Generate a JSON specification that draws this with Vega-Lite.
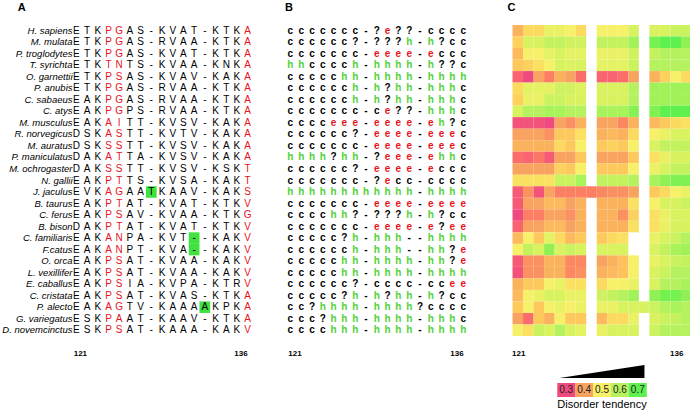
{
"$schema": "https://vega.github.io/schema/vega-lite/v6.json",
"padding": {"left": 1, "top": 2, "right": 0, "bottom": 0},
"background": "white",
"config": {
  "view": {"stroke": null},
  "font": "Liberation Sans",
  "title": {"fontSize": 11, "fontWeight": "bold", "anchor": "start", "offset": 12, "color": "black"},
  "axis": {"ticks": false, "domain": false, "grid": false, "title": null}
},
"datasets": {
"flags": [{"sp":"J. jaculus","pos":128},{"sp":"C. familiaris","pos":132},{"sp":"F.catus","pos":132},{"sp":"P. alecto","pos":133}],
"cells": [
{"sp":"H. sapiens","pos":121,"aa":"E","ss":"c","dis":0.42},{"sp":"H. sapiens","pos":122,"aa":"T","ss":"c","dis":0.47},{"sp":"H. sapiens","pos":123,"aa":"K","ss":"c","dis":0.47},{"sp":"H. sapiens","pos":124,"aa":"P","ss":"c","dis":0.52},{"sp":"H. sapiens","pos":125,"aa":"G","ss":"c","dis":0.52},{"sp":"H. sapiens","pos":126,"aa":"A","ss":"c","dis":0.5},{"sp":"H. sapiens","pos":127,"aa":"S","ss":"c","dis":0.47},{"sp":"H. sapiens","pos":128,"aa":"-","ss":"-"},{"sp":"H. sapiens","pos":129,"aa":"K","ss":"?","dis":0.5},{"sp":"H. sapiens","pos":130,"aa":"V","ss":"e","dis":0.5},{"sp":"H. sapiens","pos":131,"aa":"A","ss":"?","dis":0.5},{"sp":"H. sapiens","pos":132,"aa":"T","ss":"?","dis":0.55},{"sp":"H. sapiens","pos":133,"aa":"-","ss":"-"},{"sp":"H. sapiens","pos":134,"aa":"K","ss":"c","dis":0.55},{"sp":"H. sapiens","pos":135,"aa":"T","ss":"c","dis":0.55},{"sp":"H. sapiens","pos":136,"aa":"K","ss":"c","dis":0.57},{"sp":"H. sapiens","pos":137,"aa":"A","ss":"c","dis":0.57},
{"sp":"M. mulata","pos":121,"aa":"E","ss":"c","dis":0.46},{"sp":"M. mulata","pos":122,"aa":"T","ss":"c","dis":0.55},{"sp":"M. mulata","pos":123,"aa":"K","ss":"c","dis":0.55},{"sp":"M. mulata","pos":124,"aa":"P","ss":"c","dis":0.58},{"sp":"M. mulata","pos":125,"aa":"G","ss":"c","dis":0.58},{"sp":"M. mulata","pos":126,"aa":"A","ss":"c","dis":0.56},{"sp":"M. mulata","pos":127,"aa":"S","ss":"?","dis":0.56},{"sp":"M. mulata","pos":128,"aa":"-","ss":"-"},{"sp":"M. mulata","pos":129,"aa":"R","ss":"?","dis":0.58},{"sp":"M. mulata","pos":130,"aa":"V","ss":"?","dis":0.58},{"sp":"M. mulata","pos":131,"aa":"A","ss":"?","dis":0.58},{"sp":"M. mulata","pos":132,"aa":"A","ss":"h","dis":0.63},{"sp":"M. mulata","pos":133,"aa":"-","ss":"-"},{"sp":"M. mulata","pos":134,"aa":"K","ss":"h","dis":0.68},{"sp":"M. mulata","pos":135,"aa":"T","ss":"?","dis":0.7},{"sp":"M. mulata","pos":136,"aa":"K","ss":"c","dis":0.7},{"sp":"M. mulata","pos":137,"aa":"A","ss":"c","dis":0.65},
{"sp":"P. troglodytes","pos":121,"aa":"E","ss":"c","dis":0.43},{"sp":"P. troglodytes","pos":122,"aa":"T","ss":"c","dis":0.5},{"sp":"P. troglodytes","pos":123,"aa":"K","ss":"c","dis":0.5},{"sp":"P. troglodytes","pos":124,"aa":"P","ss":"c","dis":0.53},{"sp":"P. troglodytes","pos":125,"aa":"G","ss":"c","dis":0.55},{"sp":"P. troglodytes","pos":126,"aa":"A","ss":"c","dis":0.53},{"sp":"P. troglodytes","pos":127,"aa":"S","ss":"c","dis":0.53},{"sp":"P. troglodytes","pos":128,"aa":"-","ss":"-"},{"sp":"P. troglodytes","pos":129,"aa":"K","ss":"e","dis":0.52},{"sp":"P. troglodytes","pos":130,"aa":"V","ss":"e","dis":0.52},{"sp":"P. troglodytes","pos":131,"aa":"A","ss":"e","dis":0.52},{"sp":"P. troglodytes","pos":132,"aa":"T","ss":"e","dis":0.56},{"sp":"P. troglodytes","pos":133,"aa":"-","ss":"-"},{"sp":"P. troglodytes","pos":134,"aa":"K","ss":"e","dis":0.58},{"sp":"P. troglodytes","pos":135,"aa":"T","ss":"c","dis":0.6},{"sp":"P. troglodytes","pos":136,"aa":"K","ss":"c","dis":0.6},{"sp":"P. troglodytes","pos":137,"aa":"A","ss":"c","dis":0.6},
{"sp":"T. syrichta","pos":121,"aa":"E","ss":"h","dis":0.45},{"sp":"T. syrichta","pos":122,"aa":"T","ss":"h","dis":0.46},{"sp":"T. syrichta","pos":123,"aa":"K","ss":"c","dis":0.48},{"sp":"T. syrichta","pos":124,"aa":"T","ss":"c","dis":0.5},{"sp":"T. syrichta","pos":125,"aa":"N","ss":"c","dis":0.55},{"sp":"T. syrichta","pos":126,"aa":"T","ss":"c","dis":0.54},{"sp":"T. syrichta","pos":127,"aa":"S","ss":"h","dis":0.55},{"sp":"T. syrichta","pos":128,"aa":"-","ss":"-"},{"sp":"T. syrichta","pos":129,"aa":"K","ss":"h","dis":0.53},{"sp":"T. syrichta","pos":130,"aa":"V","ss":"h","dis":0.53},{"sp":"T. syrichta","pos":131,"aa":"A","ss":"h","dis":0.53},{"sp":"T. syrichta","pos":132,"aa":"A","ss":"h","dis":0.57},{"sp":"T. syrichta","pos":133,"aa":"-","ss":"-"},{"sp":"T. syrichta","pos":134,"aa":"K","ss":"h","dis":0.6},{"sp":"T. syrichta","pos":135,"aa":"N","ss":"?","dis":0.6},{"sp":"T. syrichta","pos":136,"aa":"K","ss":"?","dis":0.6},{"sp":"T. syrichta","pos":137,"aa":"A","ss":"c","dis":0.6},
{"sp":"O. garnettii","pos":121,"aa":"E","ss":"c","dis":0.33},{"sp":"O. garnettii","pos":122,"aa":"T","ss":"c","dis":0.3},{"sp":"O. garnettii","pos":123,"aa":"K","ss":"c","dis":0.4},{"sp":"O. garnettii","pos":124,"aa":"P","ss":"c","dis":0.36},{"sp":"O. garnettii","pos":125,"aa":"S","ss":"c","dis":0.42},{"sp":"O. garnettii","pos":126,"aa":"A","ss":"h","dis":0.4},{"sp":"O. garnettii","pos":127,"aa":"S","ss":"h","dis":0.34},{"sp":"O. garnettii","pos":128,"aa":"-","ss":"-"},{"sp":"O. garnettii","pos":129,"aa":"K","ss":"h","dis":0.33},{"sp":"O. garnettii","pos":130,"aa":"V","ss":"h","dis":0.33},{"sp":"O. garnettii","pos":131,"aa":"A","ss":"h","dis":0.34},{"sp":"O. garnettii","pos":132,"aa":"V","ss":"h","dis":0.4},{"sp":"O. garnettii","pos":133,"aa":"-","ss":"-"},{"sp":"O. garnettii","pos":134,"aa":"K","ss":"h","dis":0.42},{"sp":"O. garnettii","pos":135,"aa":"A","ss":"h","dis":0.46},{"sp":"O. garnettii","pos":136,"aa":"K","ss":"h","dis":0.5},{"sp":"O. garnettii","pos":137,"aa":"A","ss":"h","dis":0.47},
{"sp":"P. anubis","pos":121,"aa":"E","ss":"c","dis":0.47},{"sp":"P. anubis","pos":122,"aa":"T","ss":"c","dis":0.53},{"sp":"P. anubis","pos":123,"aa":"K","ss":"c","dis":0.53},{"sp":"P. anubis","pos":124,"aa":"P","ss":"c","dis":0.53},{"sp":"P. anubis","pos":125,"aa":"G","ss":"c","dis":0.56},{"sp":"P. anubis","pos":126,"aa":"A","ss":"c","dis":0.56},{"sp":"P. anubis","pos":127,"aa":"S","ss":"h","dis":0.54},{"sp":"P. anubis","pos":128,"aa":"-","ss":"-"},{"sp":"P. anubis","pos":129,"aa":"R","ss":"h","dis":0.55},{"sp":"P. anubis","pos":130,"aa":"V","ss":"?","dis":0.55},{"sp":"P. anubis","pos":131,"aa":"A","ss":"h","dis":0.55},{"sp":"P. anubis","pos":132,"aa":"A","ss":"h","dis":0.6},{"sp":"P. anubis","pos":133,"aa":"-","ss":"-"},{"sp":"P. anubis","pos":134,"aa":"K","ss":"h","dis":0.63},{"sp":"P. anubis","pos":135,"aa":"T","ss":"h","dis":0.63},{"sp":"P. anubis","pos":136,"aa":"K","ss":"h","dis":0.63},{"sp":"P. anubis","pos":137,"aa":"A","ss":"c","dis":0.63},
{"sp":"C. sabaeus","pos":121,"aa":"E","ss":"c","dis":0.46},{"sp":"C. sabaeus","pos":122,"aa":"A","ss":"c","dis":0.52},{"sp":"C. sabaeus","pos":123,"aa":"K","ss":"c","dis":0.52},{"sp":"C. sabaeus","pos":124,"aa":"P","ss":"c","dis":0.57},{"sp":"C. sabaeus","pos":125,"aa":"G","ss":"c","dis":0.57},{"sp":"C. sabaeus","pos":126,"aa":"A","ss":"c","dis":0.55},{"sp":"C. sabaeus","pos":127,"aa":"S","ss":"h","dis":0.55},{"sp":"C. sabaeus","pos":128,"aa":"-","ss":"-"},{"sp":"C. sabaeus","pos":129,"aa":"R","ss":"h","dis":0.55},{"sp":"C. sabaeus","pos":130,"aa":"V","ss":"?","dis":0.55},{"sp":"C. sabaeus","pos":131,"aa":"A","ss":"h","dis":0.55},{"sp":"C. sabaeus","pos":132,"aa":"A","ss":"h","dis":0.6},{"sp":"C. sabaeus","pos":133,"aa":"-","ss":"-"},{"sp":"C. sabaeus","pos":134,"aa":"K","ss":"h","dis":0.63},{"sp":"C. sabaeus","pos":135,"aa":"T","ss":"h","dis":0.63},{"sp":"C. sabaeus","pos":136,"aa":"K","ss":"h","dis":0.63},{"sp":"C. sabaeus","pos":137,"aa":"A","ss":"c","dis":0.63},
{"sp":"C. atys","pos":121,"aa":"E","ss":"c","dis":0.55},{"sp":"C. atys","pos":122,"aa":"A","ss":"c","dis":0.6},{"sp":"C. atys","pos":123,"aa":"K","ss":"c","dis":0.6},{"sp":"C. atys","pos":124,"aa":"P","ss":"c","dis":0.62},{"sp":"C. atys","pos":125,"aa":"G","ss":"c","dis":0.62},{"sp":"C. atys","pos":126,"aa":"P","ss":"c","dis":0.6},{"sp":"C. atys","pos":127,"aa":"S","ss":"c","dis":0.6},{"sp":"C. atys","pos":128,"aa":"-","ss":"-"},{"sp":"C. atys","pos":129,"aa":"R","ss":"c","dis":0.62},{"sp":"C. atys","pos":130,"aa":"V","ss":"e","dis":0.62},{"sp":"C. atys","pos":131,"aa":"A","ss":"?","dis":0.62},{"sp":"C. atys","pos":132,"aa":"A","ss":"?","dis":0.66},{"sp":"C. atys","pos":133,"aa":"-","ss":"-"},{"sp":"C. atys","pos":134,"aa":"K","ss":"h","dis":0.67},{"sp":"C. atys","pos":135,"aa":"T","ss":"h","dis":0.7},{"sp":"C. atys","pos":136,"aa":"K","ss":"h","dis":0.7},{"sp":"C. atys","pos":137,"aa":"A","ss":"c","dis":0.7},
{"sp":"M. musculus","pos":121,"aa":"E","ss":"c","dis":0.31},{"sp":"M. musculus","pos":122,"aa":"A","ss":"c","dis":0.31},{"sp":"M. musculus","pos":123,"aa":"K","ss":"c","dis":0.31},{"sp":"M. musculus","pos":124,"aa":"A","ss":"c","dis":0.3},{"sp":"M. musculus","pos":125,"aa":"I","ss":"e","dis":0.4},{"sp":"M. musculus","pos":126,"aa":"T","ss":"e","dis":0.38},{"sp":"M. musculus","pos":127,"aa":"T","ss":"e","dis":0.42},{"sp":"M. musculus","pos":128,"aa":"-","ss":"-"},{"sp":"M. musculus","pos":129,"aa":"K","ss":"e","dis":0.4},{"sp":"M. musculus","pos":130,"aa":"V","ss":"e","dis":0.4},{"sp":"M. musculus","pos":131,"aa":"S","ss":"e","dis":0.37},{"sp":"M. musculus","pos":132,"aa":"V","ss":"e","dis":0.42},{"sp":"M. musculus","pos":133,"aa":"-","ss":"-"},{"sp":"M. musculus","pos":134,"aa":"K","ss":"e","dis":0.43},{"sp":"M. musculus","pos":135,"aa":"A","ss":"h","dis":0.45},{"sp":"M. musculus","pos":136,"aa":"K","ss":"?","dis":0.47},{"sp":"M. musculus","pos":137,"aa":"A","ss":"c","dis":0.48},
{"sp":"R. norvegicus","pos":121,"aa":"D","ss":"c","dis":0.4},{"sp":"R. norvegicus","pos":122,"aa":"S","ss":"c","dis":0.4},{"sp":"R. norvegicus","pos":123,"aa":"K","ss":"c","dis":0.4},{"sp":"R. norvegicus","pos":124,"aa":"A","ss":"c","dis":0.38},{"sp":"R. norvegicus","pos":125,"aa":"S","ss":"c","dis":0.45},{"sp":"R. norvegicus","pos":126,"aa":"T","ss":"c","dis":0.45},{"sp":"R. norvegicus","pos":127,"aa":"T","ss":"?","dis":0.48},{"sp":"R. norvegicus","pos":128,"aa":"-","ss":"-"},{"sp":"R. norvegicus","pos":129,"aa":"K","ss":"e","dis":0.42},{"sp":"R. norvegicus","pos":130,"aa":"V","ss":"e","dis":0.43},{"sp":"R. norvegicus","pos":131,"aa":"T","ss":"e","dis":0.42},{"sp":"R. norvegicus","pos":132,"aa":"V","ss":"e","dis":0.47},{"sp":"R. norvegicus","pos":133,"aa":"-","ss":"-"},{"sp":"R. norvegicus","pos":134,"aa":"K","ss":"e","dis":0.5},{"sp":"R. norvegicus","pos":135,"aa":"A","ss":"e","dis":0.52},{"sp":"R. norvegicus","pos":136,"aa":"K","ss":"e","dis":0.55},{"sp":"R. norvegicus","pos":137,"aa":"A","ss":"c","dis":0.55},
{"sp":"M. auratus","pos":121,"aa":"D","ss":"c","dis":0.42},{"sp":"M. auratus","pos":122,"aa":"S","ss":"c","dis":0.42},{"sp":"M. auratus","pos":123,"aa":"K","ss":"c","dis":0.42},{"sp":"M. auratus","pos":124,"aa":"S","ss":"c","dis":0.42},{"sp":"M. auratus","pos":125,"aa":"S","ss":"c","dis":0.47},{"sp":"M. auratus","pos":126,"aa":"T","ss":"c","dis":0.45},{"sp":"M. auratus","pos":127,"aa":"T","ss":"c","dis":0.5},{"sp":"M. auratus","pos":128,"aa":"-","ss":"-"},{"sp":"M. auratus","pos":129,"aa":"K","ss":"e","dis":0.45},{"sp":"M. auratus","pos":130,"aa":"V","ss":"e","dis":0.46},{"sp":"M. auratus","pos":131,"aa":"S","ss":"e","dis":0.45},{"sp":"M. auratus","pos":132,"aa":"V","ss":"e","dis":0.5},{"sp":"M. auratus","pos":133,"aa":"-","ss":"-"},{"sp":"M. auratus","pos":134,"aa":"K","ss":"e","dis":0.55},{"sp":"M. auratus","pos":135,"aa":"A","ss":"e","dis":0.58},{"sp":"M. auratus","pos":136,"aa":"K","ss":"e","dis":0.58},{"sp":"M. auratus","pos":137,"aa":"A","ss":"c","dis":0.58},
{"sp":"P. maniculatus","pos":121,"aa":"D","ss":"h","dis":0.34},{"sp":"P. maniculatus","pos":122,"aa":"A","ss":"h","dis":0.33},{"sp":"P. maniculatus","pos":123,"aa":"K","ss":"h","dis":0.35},{"sp":"P. maniculatus","pos":124,"aa":"A","ss":"h","dis":0.32},{"sp":"P. maniculatus","pos":125,"aa":"T","ss":"?","dis":0.4},{"sp":"P. maniculatus","pos":126,"aa":"T","ss":"h","dis":0.4},{"sp":"P. maniculatus","pos":127,"aa":"A","ss":"h","dis":0.45},{"sp":"P. maniculatus","pos":128,"aa":"-","ss":"-"},{"sp":"P. maniculatus","pos":129,"aa":"K","ss":"?","dis":0.4},{"sp":"P. maniculatus","pos":130,"aa":"V","ss":"e","dis":0.4},{"sp":"P. maniculatus","pos":131,"aa":"S","ss":"e","dis":0.4},{"sp":"P. maniculatus","pos":132,"aa":"V","ss":"e","dis":0.45},{"sp":"P. maniculatus","pos":133,"aa":"-","ss":"-"},{"sp":"P. maniculatus","pos":134,"aa":"K","ss":"e","dis":0.48},{"sp":"P. maniculatus","pos":135,"aa":"A","ss":"h","dis":0.52},{"sp":"P. maniculatus","pos":136,"aa":"K","ss":"h","dis":0.55},{"sp":"P. maniculatus","pos":137,"aa":"A","ss":"c","dis":0.55},
{"sp":"M. ochrogaster","pos":121,"aa":"D","ss":"c","dis":0.4},{"sp":"M. ochrogaster","pos":122,"aa":"A","ss":"c","dis":0.4},{"sp":"M. ochrogaster","pos":123,"aa":"K","ss":"c","dis":0.4},{"sp":"M. ochrogaster","pos":124,"aa":"S","ss":"c","dis":0.4},{"sp":"M. ochrogaster","pos":125,"aa":"S","ss":"c","dis":0.46},{"sp":"M. ochrogaster","pos":126,"aa":"T","ss":"c","dis":0.45},{"sp":"M. ochrogaster","pos":127,"aa":"T","ss":"?","dis":0.5},{"sp":"M. ochrogaster","pos":128,"aa":"-","ss":"-"},{"sp":"M. ochrogaster","pos":129,"aa":"K","ss":"e","dis":0.45},{"sp":"M. ochrogaster","pos":130,"aa":"V","ss":"e","dis":0.45},{"sp":"M. ochrogaster","pos":131,"aa":"S","ss":"e","dis":0.45},{"sp":"M. ochrogaster","pos":132,"aa":"V","ss":"e","dis":0.5},{"sp":"M. ochrogaster","pos":133,"aa":"-","ss":"-"},{"sp":"M. ochrogaster","pos":134,"aa":"K","ss":"e","dis":0.52},{"sp":"M. ochrogaster","pos":135,"aa":"S","ss":"c","dis":0.55},{"sp":"M. ochrogaster","pos":136,"aa":"K","ss":"c","dis":0.58},{"sp":"M. ochrogaster","pos":137,"aa":"T","ss":"c","dis":0.58},
{"sp":"N. gallii","pos":121,"aa":"E","ss":"c","dis":0.48},{"sp":"N. gallii","pos":122,"aa":"A","ss":"c","dis":0.48},{"sp":"N. gallii","pos":123,"aa":"K","ss":"c","dis":0.48},{"sp":"N. gallii","pos":124,"aa":"P","ss":"c","dis":0.48},{"sp":"N. gallii","pos":125,"aa":"T","ss":"c","dis":0.57},{"sp":"N. gallii","pos":126,"aa":"T","ss":"c","dis":0.57},{"sp":"N. gallii","pos":127,"aa":"S","ss":"c","dis":0.62},{"sp":"N. gallii","pos":128,"aa":"-","ss":"-"},{"sp":"N. gallii","pos":129,"aa":"K","ss":"?","dis":0.58},{"sp":"N. gallii","pos":130,"aa":"V","ss":"e","dis":0.58},{"sp":"N. gallii","pos":131,"aa":"S","ss":"c","dis":0.58},{"sp":"N. gallii","pos":132,"aa":"A","ss":"c","dis":0.6},{"sp":"N. gallii","pos":133,"aa":"-","ss":"-"},{"sp":"N. gallii","pos":134,"aa":"K","ss":"c","dis":0.62},{"sp":"N. gallii","pos":135,"aa":"A","ss":"c","dis":0.65},{"sp":"N. gallii","pos":136,"aa":"K","ss":"c","dis":0.67},{"sp":"N. gallii","pos":137,"aa":"T","ss":"c","dis":0.67},
{"sp":"J. jaculus","pos":121,"aa":"E","ss":"h","dis":0.32},{"sp":"J. jaculus","pos":122,"aa":"V","ss":"h","dis":0.38},{"sp":"J. jaculus","pos":123,"aa":"K","ss":"h","dis":0.31},{"sp":"J. jaculus","pos":124,"aa":"A","ss":"h","dis":0.4},{"sp":"J. jaculus","pos":125,"aa":"G","ss":"h","dis":0.36},{"sp":"J. jaculus","pos":126,"aa":"A","ss":"h","dis":0.36},{"sp":"J. jaculus","pos":127,"aa":"A","ss":"h","dis":0.36},{"sp":"J. jaculus","pos":128,"aa":"T","ss":"h","dis":0.36},{"sp":"J. jaculus","pos":129,"aa":"K","ss":"h","dis":0.37},{"sp":"J. jaculus","pos":130,"aa":"A","ss":"h","dis":0.38},{"sp":"J. jaculus","pos":131,"aa":"A","ss":"h","dis":0.38},{"sp":"J. jaculus","pos":132,"aa":"V","ss":"h","dis":0.4},{"sp":"J. jaculus","pos":133,"aa":"-","ss":"-"},{"sp":"J. jaculus","pos":134,"aa":"K","ss":"h","dis":0.45},{"sp":"J. jaculus","pos":135,"aa":"A","ss":"h","dis":0.47},{"sp":"J. jaculus","pos":136,"aa":"K","ss":"h","dis":0.5},{"sp":"J. jaculus","pos":137,"aa":"S","ss":"h","dis":0.52},
{"sp":"B. taurus","pos":121,"aa":"E","ss":"c","dis":0.32},{"sp":"B. taurus","pos":122,"aa":"A","ss":"c","dis":0.4},{"sp":"B. taurus","pos":123,"aa":"K","ss":"c","dis":0.4},{"sp":"B. taurus","pos":124,"aa":"P","ss":"c","dis":0.43},{"sp":"B. taurus","pos":125,"aa":"T","ss":"c","dis":0.43},{"sp":"B. taurus","pos":126,"aa":"A","ss":"c","dis":0.4},{"sp":"B. taurus","pos":127,"aa":"T","ss":"c","dis":0.42},{"sp":"B. taurus","pos":128,"aa":"-","ss":"-"},{"sp":"B. taurus","pos":129,"aa":"K","ss":"e","dis":0.42},{"sp":"B. taurus","pos":130,"aa":"V","ss":"e","dis":0.42},{"sp":"B. taurus","pos":131,"aa":"A","ss":"e","dis":0.42},{"sp":"B. taurus","pos":132,"aa":"T","ss":"e","dis":0.48},{"sp":"B. taurus","pos":133,"aa":"-","ss":"-"},{"sp":"B. taurus","pos":134,"aa":"K","ss":"e","dis":0.5},{"sp":"B. taurus","pos":135,"aa":"T","ss":"e","dis":0.55},{"sp":"B. taurus","pos":136,"aa":"K","ss":"e","dis":0.55},{"sp":"B. taurus","pos":137,"aa":"V","ss":"e","dis":0.57},
{"sp":"C. ferus","pos":121,"aa":"E","ss":"c","dis":0.3},{"sp":"C. ferus","pos":122,"aa":"A","ss":"c","dis":0.36},{"sp":"C. ferus","pos":123,"aa":"K","ss":"c","dis":0.36},{"sp":"C. ferus","pos":124,"aa":"P","ss":"c","dis":0.4},{"sp":"C. ferus","pos":125,"aa":"S","ss":"h","dis":0.4},{"sp":"C. ferus","pos":126,"aa":"A","ss":"h","dis":0.38},{"sp":"C. ferus","pos":127,"aa":"V","ss":"?","dis":0.42},{"sp":"C. ferus","pos":128,"aa":"-","ss":"-"},{"sp":"C. ferus","pos":129,"aa":"K","ss":"?","dis":0.42},{"sp":"C. ferus","pos":130,"aa":"V","ss":"?","dis":0.42},{"sp":"C. ferus","pos":131,"aa":"A","ss":"?","dis":0.38},{"sp":"C. ferus","pos":132,"aa":"A","ss":"h","dis":0.46},{"sp":"C. ferus","pos":133,"aa":"-","ss":"-"},{"sp":"C. ferus","pos":134,"aa":"K","ss":"h","dis":0.48},{"sp":"C. ferus","pos":135,"aa":"T","ss":"?","dis":0.52},{"sp":"C. ferus","pos":136,"aa":"K","ss":"c","dis":0.55},{"sp":"C. ferus","pos":137,"aa":"G","ss":"c","dis":0.55},
{"sp":"B. bison","pos":121,"aa":"D","ss":"c","dis":0.33},{"sp":"B. bison","pos":122,"aa":"A","ss":"c","dis":0.4},{"sp":"B. bison","pos":123,"aa":"K","ss":"c","dis":0.4},{"sp":"B. bison","pos":124,"aa":"P","ss":"c","dis":0.43},{"sp":"B. bison","pos":125,"aa":"T","ss":"c","dis":0.43},{"sp":"B. bison","pos":126,"aa":"A","ss":"c","dis":0.4},{"sp":"B. bison","pos":127,"aa":"T","ss":"c","dis":0.42},{"sp":"B. bison","pos":128,"aa":"-","ss":"-"},{"sp":"B. bison","pos":129,"aa":"K","ss":"e","dis":0.42},{"sp":"B. bison","pos":130,"aa":"V","ss":"e","dis":0.42},{"sp":"B. bison","pos":131,"aa":"A","ss":"e","dis":0.42},{"sp":"B. bison","pos":132,"aa":"T","ss":"e","dis":0.48},{"sp":"B. bison","pos":133,"aa":"-","ss":"-"},{"sp":"B. bison","pos":134,"aa":"K","ss":"e","dis":0.48},{"sp":"B. bison","pos":135,"aa":"T","ss":"?","dis":0.52},{"sp":"B. bison","pos":136,"aa":"K","ss":"e","dis":0.55},{"sp":"B. bison","pos":137,"aa":"V","ss":"e","dis":0.55},
{"sp":"C. familiaris","pos":121,"aa":"E","ss":"c","dis":0.43},{"sp":"C. familiaris","pos":122,"aa":"A","ss":"c","dis":0.5},{"sp":"C. familiaris","pos":123,"aa":"K","ss":"c","dis":0.45},{"sp":"C. familiaris","pos":124,"aa":"A","ss":"c","dis":0.53},{"sp":"C. familiaris","pos":125,"aa":"N","ss":"c","dis":0.47},{"sp":"C. familiaris","pos":126,"aa":"P","ss":"?","dis":0.43},{"sp":"C. familiaris","pos":127,"aa":"A","ss":"h","dis":0.45},{"sp":"C. familiaris","pos":128,"aa":"-","ss":"-"},{"sp":"C. familiaris","pos":129,"aa":"K","ss":"h","dis":0.45},{"sp":"C. familiaris","pos":130,"aa":"V","ss":"h","dis":0.47},{"sp":"C. familiaris","pos":131,"aa":"T","ss":"h","dis":0.48},{"sp":"C. familiaris","pos":132,"aa":"-","ss":"-"},{"sp":"C. familiaris","pos":133,"aa":"-","ss":"-"},{"sp":"C. familiaris","pos":134,"aa":"K","ss":"h","dis":0.52},{"sp":"C. familiaris","pos":135,"aa":"A","ss":"h","dis":0.55},{"sp":"C. familiaris","pos":136,"aa":"K","ss":"h","dis":0.57},{"sp":"C. familiaris","pos":137,"aa":"V","ss":"h","dis":0.6},
{"sp":"F.catus","pos":121,"aa":"E","ss":"c","dis":0.5},{"sp":"F.catus","pos":122,"aa":"A","ss":"c","dis":0.58},{"sp":"F.catus","pos":123,"aa":"K","ss":"c","dis":0.55},{"sp":"F.catus","pos":124,"aa":"A","ss":"c","dis":0.65},{"sp":"F.catus","pos":125,"aa":"N","ss":"c","dis":0.55},{"sp":"F.catus","pos":126,"aa":"P","ss":"c","dis":0.57},{"sp":"F.catus","pos":127,"aa":"T","ss":"h","dis":0.55},{"sp":"F.catus","pos":128,"aa":"-","ss":"-"},{"sp":"F.catus","pos":129,"aa":"K","ss":"h","dis":0.55},{"sp":"F.catus","pos":130,"aa":"V","ss":"h","dis":0.55},{"sp":"F.catus","pos":131,"aa":"A","ss":"h","dis":0.55},{"sp":"F.catus","pos":132,"aa":"-","ss":"-"},{"sp":"F.catus","pos":133,"aa":"-","ss":"-"},{"sp":"F.catus","pos":134,"aa":"K","ss":"h","dis":0.55},{"sp":"F.catus","pos":135,"aa":"A","ss":"h","dis":0.58},{"sp":"F.catus","pos":136,"aa":"K","ss":"?","dis":0.62},{"sp":"F.catus","pos":137,"aa":"V","ss":"e","dis":0.63},
{"sp":"O. orca","pos":121,"aa":"E","ss":"c","dis":0.32},{"sp":"O. orca","pos":122,"aa":"A","ss":"c","dis":0.38},{"sp":"O. orca","pos":123,"aa":"K","ss":"c","dis":0.38},{"sp":"O. orca","pos":124,"aa":"P","ss":"c","dis":0.42},{"sp":"O. orca","pos":125,"aa":"S","ss":"c","dis":0.42},{"sp":"O. orca","pos":126,"aa":"A","ss":"h","dis":0.37},{"sp":"O. orca","pos":127,"aa":"T","ss":"h","dis":0.37},{"sp":"O. orca","pos":128,"aa":"-","ss":"-"},{"sp":"O. orca","pos":129,"aa":"K","ss":"h","dis":0.4},{"sp":"O. orca","pos":130,"aa":"V","ss":"h","dis":0.42},{"sp":"O. orca","pos":131,"aa":"A","ss":"h","dis":0.44},{"sp":"O. orca","pos":132,"aa":"A","ss":"h","dis":0.5},{"sp":"O. orca","pos":133,"aa":"-","ss":"-"},{"sp":"O. orca","pos":134,"aa":"K","ss":"h","dis":0.52},{"sp":"O. orca","pos":135,"aa":"A","ss":"h","dis":0.55},{"sp":"O. orca","pos":136,"aa":"K","ss":"?","dis":0.57},{"sp":"O. orca","pos":137,"aa":"V","ss":"e","dis":0.58},
{"sp":"L. vexillifer","pos":121,"aa":"E","ss":"c","dis":0.31},{"sp":"L. vexillifer","pos":122,"aa":"A","ss":"c","dis":0.38},{"sp":"L. vexillifer","pos":123,"aa":"K","ss":"c","dis":0.38},{"sp":"L. vexillifer","pos":124,"aa":"P","ss":"c","dis":0.42},{"sp":"L. vexillifer","pos":125,"aa":"S","ss":"c","dis":0.42},{"sp":"L. vexillifer","pos":126,"aa":"A","ss":"h","dis":0.37},{"sp":"L. vexillifer","pos":127,"aa":"T","ss":"h","dis":0.38},{"sp":"L. vexillifer","pos":128,"aa":"-","ss":"-"},{"sp":"L. vexillifer","pos":129,"aa":"K","ss":"h","dis":0.42},{"sp":"L. vexillifer","pos":130,"aa":"V","ss":"h","dis":0.43},{"sp":"L. vexillifer","pos":131,"aa":"A","ss":"h","dis":0.44},{"sp":"L. vexillifer","pos":132,"aa":"A","ss":"h","dis":0.5},{"sp":"L. vexillifer","pos":133,"aa":"-","ss":"-"},{"sp":"L. vexillifer","pos":134,"aa":"K","ss":"h","dis":0.55},{"sp":"L. vexillifer","pos":135,"aa":"A","ss":"h","dis":0.57},{"sp":"L. vexillifer","pos":136,"aa":"K","ss":"h","dis":0.6},{"sp":"L. vexillifer","pos":137,"aa":"V","ss":"h","dis":0.6},
{"sp":"E. caballus","pos":121,"aa":"E","ss":"c","dis":0.42},{"sp":"E. caballus","pos":122,"aa":"A","ss":"c","dis":0.45},{"sp":"E. caballus","pos":123,"aa":"K","ss":"c","dis":0.45},{"sp":"E. caballus","pos":124,"aa":"P","ss":"c","dis":0.5},{"sp":"E. caballus","pos":125,"aa":"S","ss":"c","dis":0.52},{"sp":"E. caballus","pos":126,"aa":"I","ss":"c","dis":0.48},{"sp":"E. caballus","pos":127,"aa":"A","ss":"?","dis":0.48},{"sp":"E. caballus","pos":128,"aa":"-","ss":"-"},{"sp":"E. caballus","pos":129,"aa":"K","ss":"c","dis":0.47},{"sp":"E. caballus","pos":130,"aa":"V","ss":"c","dis":0.5},{"sp":"E. caballus","pos":131,"aa":"P","ss":"c","dis":0.5},{"sp":"E. caballus","pos":132,"aa":"A","ss":"c","dis":0.52},{"sp":"E. caballus","pos":133,"aa":"-","ss":"-"},{"sp":"E. caballus","pos":134,"aa":"K","ss":"c","dis":0.55},{"sp":"E. caballus","pos":135,"aa":"T","ss":"c","dis":0.6},{"sp":"E. caballus","pos":136,"aa":"R","ss":"e","dis":0.6},{"sp":"E. caballus","pos":137,"aa":"V","ss":"e","dis":0.62},
{"sp":"C. cristata","pos":121,"aa":"E","ss":"c","dis":0.43},{"sp":"C. cristata","pos":122,"aa":"A","ss":"c","dis":0.5},{"sp":"C. cristata","pos":123,"aa":"K","ss":"c","dis":0.52},{"sp":"C. cristata","pos":124,"aa":"P","ss":"c","dis":0.55},{"sp":"C. cristata","pos":125,"aa":"S","ss":"c","dis":0.55},{"sp":"C. cristata","pos":126,"aa":"A","ss":"?","dis":0.52},{"sp":"C. cristata","pos":127,"aa":"T","ss":"h","dis":0.52},{"sp":"C. cristata","pos":128,"aa":"-","ss":"-"},{"sp":"C. cristata","pos":129,"aa":"K","ss":"h","dis":0.56},{"sp":"C. cristata","pos":130,"aa":"V","ss":"?","dis":0.58},{"sp":"C. cristata","pos":131,"aa":"A","ss":"h","dis":0.6},{"sp":"C. cristata","pos":132,"aa":"S","ss":"h","dis":0.63},{"sp":"C. cristata","pos":133,"aa":"-","ss":"-"},{"sp":"C. cristata","pos":134,"aa":"K","ss":"h","dis":0.65},{"sp":"C. cristata","pos":135,"aa":"T","ss":"?","dis":0.68},{"sp":"C. cristata","pos":136,"aa":"K","ss":"c","dis":0.68},{"sp":"C. cristata","pos":137,"aa":"A","ss":"c","dis":0.65},
{"sp":"P. alecto","pos":121,"aa":"E","ss":"c","dis":0.45},{"sp":"P. alecto","pos":122,"aa":"A","ss":"c","dis":0.5},{"sp":"P. alecto","pos":123,"aa":"K","ss":"?","dis":0.45},{"sp":"P. alecto","pos":124,"aa":"A","ss":"h","dis":0.5},{"sp":"P. alecto","pos":125,"aa":"G","ss":"h","dis":0.52},{"sp":"P. alecto","pos":126,"aa":"T","ss":"h","dis":0.5},{"sp":"P. alecto","pos":127,"aa":"V","ss":"h","dis":0.52},{"sp":"P. alecto","pos":128,"aa":"-","ss":"-"},{"sp":"P. alecto","pos":129,"aa":"K","ss":"h","dis":0.52},{"sp":"P. alecto","pos":130,"aa":"A","ss":"h","dis":0.52},{"sp":"P. alecto","pos":131,"aa":"A","ss":"h","dis":0.55},{"sp":"P. alecto","pos":132,"aa":"A","ss":"h","dis":0.55},{"sp":"P. alecto","pos":133,"aa":"A","ss":"?","dis":0.55},{"sp":"P. alecto","pos":134,"aa":"K","ss":"c","dis":0.57},{"sp":"P. alecto","pos":135,"aa":"P","ss":"c","dis":0.6},{"sp":"P. alecto","pos":136,"aa":"K","ss":"c","dis":0.62},{"sp":"P. alecto","pos":137,"aa":"A","ss":"c","dis":0.6},
{"sp":"G. variegatus","pos":121,"aa":"E","ss":"c","dis":0.4},{"sp":"G. variegatus","pos":122,"aa":"S","ss":"c","dis":0.34},{"sp":"G. variegatus","pos":123,"aa":"K","ss":"c","dis":0.45},{"sp":"G. variegatus","pos":124,"aa":"P","ss":"?","dis":0.42},{"sp":"G. variegatus","pos":125,"aa":"A","ss":"h","dis":0.5},{"sp":"G. variegatus","pos":126,"aa":"A","ss":"h","dis":0.45},{"sp":"G. variegatus","pos":127,"aa":"T","ss":"h","dis":0.45},{"sp":"G. variegatus","pos":128,"aa":"-","ss":"-"},{"sp":"G. variegatus","pos":129,"aa":"K","ss":"h","dis":0.43},{"sp":"G. variegatus","pos":130,"aa":"A","ss":"h","dis":0.47},{"sp":"G. variegatus","pos":131,"aa":"A","ss":"h","dis":0.47},{"sp":"G. variegatus","pos":132,"aa":"V","ss":"h","dis":0.52},{"sp":"G. variegatus","pos":133,"aa":"-","ss":"-"},{"sp":"G. variegatus","pos":134,"aa":"K","ss":"h","dis":0.55},{"sp":"G. variegatus","pos":135,"aa":"T","ss":"h","dis":0.57},{"sp":"G. variegatus","pos":136,"aa":"K","ss":"h","dis":0.58},{"sp":"G. variegatus","pos":137,"aa":"A","ss":"c","dis":0.6},
{"sp":"D. novemcinctus","pos":121,"aa":"E","ss":"c","dis":0.5},{"sp":"D. novemcinctus","pos":122,"aa":"S","ss":"c","dis":0.48},{"sp":"D. novemcinctus","pos":123,"aa":"K","ss":"c","dis":0.57},{"sp":"D. novemcinctus","pos":124,"aa":"P","ss":"c","dis":0.55},{"sp":"D. novemcinctus","pos":125,"aa":"S","ss":"h","dis":0.6},{"sp":"D. novemcinctus","pos":126,"aa":"A","ss":"h","dis":0.55},{"sp":"D. novemcinctus","pos":127,"aa":"T","ss":"h","dis":0.53},{"sp":"D. novemcinctus","pos":128,"aa":"-","ss":"-"},{"sp":"D. novemcinctus","pos":129,"aa":"K","ss":"h","dis":0.52},{"sp":"D. novemcinctus","pos":130,"aa":"A","ss":"h","dis":0.55},{"sp":"D. novemcinctus","pos":131,"aa":"A","ss":"h","dis":0.55},{"sp":"D. novemcinctus","pos":132,"aa":"A","ss":"h","dis":0.55},{"sp":"D. novemcinctus","pos":133,"aa":"-","ss":"-"},{"sp":"D. novemcinctus","pos":134,"aa":"K","ss":"h","dis":0.57},{"sp":"D. novemcinctus","pos":135,"aa":"A","ss":"h","dis":0.6},{"sp":"D. novemcinctus","pos":136,"aa":"K","ss":"h","dis":0.6},{"sp":"D. novemcinctus","pos":137,"aa":"V","ss":"h","dis":0.6}
]
},
"hconcat": [
  {
    "hconcat": [
      {
        "width": 182, "height": 311,
        "title": {"text": "A", "frame": "bounds", "dx": 16},
        "encoding": {
          "x": {"field": "pos", "type": "ordinal", "scale": {"paddingInner": 0, "paddingOuter": 0}, "axis": {"values": [121, 136], "labelAngle": 0, "labelFontSize": 8, "labelFontWeight": "bold", "labelPadding": 13, "labelOffset": 4, "labelColor": "black"}},
          "y": {"field": "sp", "type": "nominal", "scale": {"domain": ["H. sapiens","M. mulata","P. troglodytes","T. syrichta","O. garnettii","P. anubis","C. sabaeus","C. atys","M. musculus","R. norvegicus","M. auratus","P. maniculatus","M. ochrogaster","N. gallii","J. jaculus","B. taurus","C. ferus","B. bison","C. familiaris","F.catus","O. orca","L. vexillifer","E. caballus","C. cristata","P. alecto","G. variegatus","D. novemcinctus"], "paddingInner": 0, "paddingOuter": 0}, "axis": {"labelFontStyle": "italic", "labelFontSize": 9.5, "labelPadding": -1, "labelLimit": 200, "labelColor": "black"}}
        },
        "layer": [
          {"data": {"name": "flags"}, "mark": {"type": "rect", "color": "#3fe23f"}},
          {"data": {"name": "cells"}, "mark": {"type": "text", "fontSize": 10},
           "encoding": {
             "text": {"field": "aa"},
             "color": {"condition": {"test": "indexof([124,125,137], datum.pos) >= 0", "value": "#e8121c"}, "value": "black"},
             "fontWeight": {"condition": {"test": "indexof([124,125,137], datum.pos) >= 0", "value": "bold"}, "value": "normal"}
           }}
        ]
      },
      {
        "width": 183.6, "height": 311,
        "title": {"text": "B", "dx": 0},
        "data": {"name": "cells"},
        "mark": {"type": "text", "fontSize": 10, "fontWeight": "bold"},
        "encoding": {
          "x": {"field": "pos", "type": "ordinal", "scale": {"paddingInner": 0, "paddingOuter": 0}, "axis": {"values": [121, 136], "labelAngle": 0, "labelFontSize": 8, "labelFontWeight": "bold", "labelPadding": 13, "labelOffset": 4, "labelColor": "black"}},
          "y": {"field": "sp", "type": "nominal", "scale": {"domain": ["H. sapiens","M. mulata","P. troglodytes","T. syrichta","O. garnettii","P. anubis","C. sabaeus","C. atys","M. musculus","R. norvegicus","M. auratus","P. maniculatus","M. ochrogaster","N. gallii","J. jaculus","B. taurus","C. ferus","B. bison","C. familiaris","F.catus","O. orca","L. vexillifer","E. caballus","C. cristata","P. alecto","G. variegatus","D. novemcinctus"], "paddingInner": 0, "paddingOuter": 0}, "axis": null},
          "text": {"field": "ss"},
          "color": {"field": "ss", "type": "nominal", "scale": {"domain": ["c","h","e","?","-"], "range": ["#000000","#52d23a","#e8141c","#000000","#000000"]}, "legend": null}
        }
      }
    ],
    "spacing": 32,
    "resolve": {"scale": {"x": "independent", "y": "independent", "color": "independent"}}
  },
  {
    "vconcat": [
      {
        "width": 179, "height": 311,
        "title": {"text": "C", "dx": -4},
        "data": {"name": "cells"},
        "transform": [{"filter": "isValid(datum.dis)"}],
        "mark": {"type": "rect"},
        "encoding": {
          "x": {"field": "pos", "type": "ordinal", "scale": {"domain": [121,122,123,124,125,126,127,128,129,130,131,132,133,134,135,136,137], "paddingInner": 0, "paddingOuter": 0}, "axis": {"values": [121, 136], "labelAngle": 0, "labelFontSize": 8, "labelFontWeight": "bold", "labelPadding": 13, "labelOffset": 1, "labelColor": "black"}},
          "y": {"field": "sp", "type": "nominal", "scale": {"domain": ["H. sapiens","M. mulata","P. troglodytes","T. syrichta","O. garnettii","P. anubis","C. sabaeus","C. atys","M. musculus","R. norvegicus","M. auratus","P. maniculatus","M. ochrogaster","N. gallii","J. jaculus","B. taurus","C. ferus","B. bison","C. familiaris","F.catus","O. orca","L. vexillifer","E. caballus","C. cristata","P. alecto","G. variegatus","D. novemcinctus"], "paddingInner": 0, "paddingOuter": 0}, "axis": null},
          "color": {"field": "dis", "type": "quantitative", "scale": {"domain": [0.3, 0.4, 0.5, 0.6, 0.7], "range": ["#ef4a80", "#f8a35f", "#f6f168", "#b6f25f", "#5ef04f"], "clamp": true}, "legend": null}
        }
      },
      {
        "vconcat": [
          {
            "width": 179, "height": 13,
            "data": {"values": [{"tendency": 0.263, "thickness": 0}, {"tendency": 0.737, "thickness": 1}]},
            "mark": {"type": "area", "color": "black"},
            "encoding": {
              "x": {"field": "tendency", "type": "quantitative", "scale": {"domain": [0, 1]}, "axis": null},
              "y": {"field": "thickness", "type": "quantitative", "scale": {"domain": [0, 1]}, "axis": null}
            }
          },
          {
            "width": 179, "height": 14,
            "title": {"text": "Disorder tendency", "orient": "bottom", "anchor": "middle", "fontSize": 11, "fontWeight": "normal", "offset": 2},
            "data": {"values": [{"tendency": 0.3, "lo": 0.25, "hi": 0.35}, {"tendency": 0.4, "lo": 0.35, "hi": 0.45}, {"tendency": 0.5, "lo": 0.45, "hi": 0.55}, {"tendency": 0.6, "lo": 0.55, "hi": 0.65}, {"tendency": 0.7, "lo": 0.65, "hi": 0.75}]},
            "layer": [
              {"mark": {"type": "rect"},
               "encoding": {
                 "x": {"field": "lo", "type": "quantitative", "scale": {"domain": [0, 1]}, "axis": null},
                 "x2": {"field": "hi"},
                 "color": {"field": "tendency", "type": "quantitative", "scale": {"domain": [0.3, 0.4, 0.5, 0.6, 0.7], "range": ["#ef4a80", "#f8a35f", "#f6f168", "#b6f25f", "#5ef04f"]}, "legend": null}
               }},
              {"mark": {"type": "text", "fontSize": 10, "color": "#222222"},
               "encoding": {
                 "x": {"field": "tendency", "type": "quantitative", "scale": {"domain": [0, 1]}, "axis": null},
                 "text": {"field": "tendency", "type": "quantitative", "format": ".1f"}
               }}
            ]
          }
        ],
        "spacing": 5,
        "resolve": {"scale": {"x": "independent", "y": "independent", "color": "independent"}}
      }
    ],
    "spacing": 8,
    "resolve": {"scale": {"x": "independent", "y": "independent", "color": "independent"}}
  }
],
"spacing": 38.5,
"resolve": {"scale": {"x": "independent", "y": "independent", "color": "independent"}}
}
